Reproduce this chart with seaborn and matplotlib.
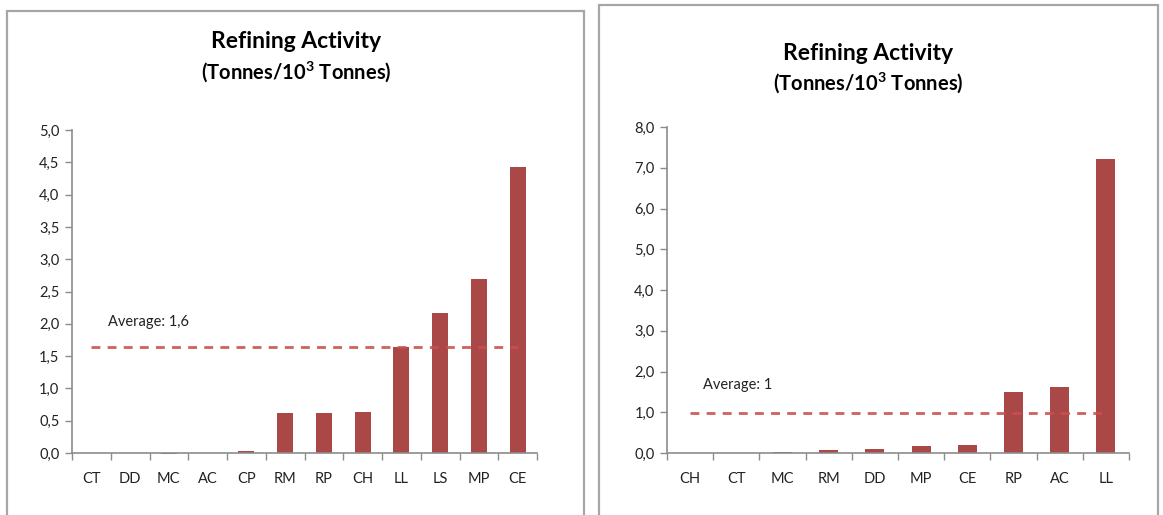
import matplotlib
matplotlib.use("Agg")
import matplotlib.pyplot as plt
import seaborn as sns
import pandas as pd
from matplotlib.patches import Rectangle
from matplotlib.ticker import FixedLocator

# ---- data ----
left_categories = ["CT", "DD", "MC", "AC", "CP", "RM", "RP", "CH", "LL", "LS", "MP", "CE"]
left_values = [0.0, 0.0, -0.02, 0.005, 0.03, 0.62, 0.62, 0.64, 1.64, 2.16, 2.70, 4.42]
left_average = 1.64
left_average_label = "Average: 1,6"
left_yticks = [0.0, 0.5, 1.0, 1.5, 2.0, 2.5, 3.0, 3.5, 4.0, 4.5, 5.0]

right_categories = ["CH", "CT", "MC", "RM", "DD", "MP", "CE", "RP", "AC", "LL"]
right_values = [0.0, 0.01, 0.03, 0.07, 0.10, 0.16, 0.19, 1.49, 1.61, 7.22]
right_average = 0.97
right_average_label = "Average: 1"
right_yticks = [0.0, 1.0, 2.0, 3.0, 4.0, 5.0, 6.0, 7.0, 8.0]

title_line1 = "Refining Activity"
title_line2 = "(Tonnes/10$^{3}$ Tonnes)"

# ---- style ----
sns.set_theme(style="white")
plt.rcParams["font.family"] = ["Lato", "DejaVu Sans"]
plt.rcParams["mathtext.fontset"] = "custom"
plt.rcParams["mathtext.rm"] = "Lato:bold"
plt.rcParams["mathtext.default"] = "rm"

BAR = "#A94846"
AVG = "#C9504D"
AXIS = "#8C8C8C"
FRAME = "#A6A6A6"

W, H = 1163, 515
fig = plt.figure(figsize=(W / 100, H / 100), dpi=100)


def fx(px):
    return px / W


def fy(py):
    return 1 - py / H


# panel frames
for (x0, y0, x1) in [(7, 11, 584), (599, 5, 1158)]:
    fig.patches.append(Rectangle((fx(x0), fy(H + 5)), fx(x1) - fx(x0), fy(y0) - fy(H + 5),
                                 transform=fig.transFigure, fill=False,
                                 edgecolor=FRAME, linewidth=1.6, zorder=0))


def draw(ax, cats, vals, avg, avg_label, yticks, ymax, label_xy, fmt):
    df = pd.DataFrame({"cat": cats, "val": vals})
    sns.barplot(data=df, x="cat", y="val", order=cats, color=BAR, saturation=1,
                width=0.41, ax=ax, edgecolor="none")
    for p in ax.patches:
        p.set_clip_on(False)
    n = len(cats)
    ax.set_xlim(-0.5, n - 0.5)
    ax.set_ylim(0, ymax)
    ax.set_xlabel("")
    ax.set_ylabel("")
    ax.set_yticks(yticks)
    ax.set_yticklabels([fmt(v) for v in yticks], fontsize=10.5, color="#222222")
    ax.tick_params(axis="y", length=5, width=1, color=AXIS, pad=4, direction="out", left=True)
    ax.tick_params(axis="x", which="major", length=0, pad=14, labelsize=10.5, labelcolor="#222222")
    ax.xaxis.set_minor_locator(FixedLocator([i - 0.5 for i in range(n + 1)]))
    ax.tick_params(axis="x", which="minor", length=5, width=1, color=AXIS, direction="out", bottom=True)
    for s in ["top", "right"]:
        ax.spines[s].set_visible(False)
    for s in ["left", "bottom"]:
        ax.spines[s].set_color(AXIS)
        ax.spines[s].set_linewidth(1.2)
    ax.spines["bottom"].set_position(("data", 0))
    ax.grid(False)
    ax.plot([0, n - 1], [avg, avg], linestyle=(0, (3.2, 2.6)), color=AVG,
            linewidth=2.0, alpha=0.9, zorder=5)
    ax.text(label_xy[0], label_xy[1], avg_label, fontsize=10.5, color="#222222",
            ha="left", va="center")


def comma1(v):
    return f"{v:.1f}".replace(".", ",")


axL = fig.add_axes([fx(72), fy(453), fx(537) - fx(72), fy(130) - fy(453)])
draw(axL, left_categories, left_values, left_average, left_average_label,
     left_yticks, 5.0, (0.43, 2.03), comma1)

axR = fig.add_axes([fx(667), fy(453), fx(1129) - fx(667), fy(127) - fy(453)])
draw(axR, right_categories, right_values, right_average, right_average_label,
     right_yticks, 8.0, (0.28, 1.67), comma1)

# titles
for cx, y1, y2 in [(296, 41, 72), (868, 53, 83)]:
    fig.text(fx(cx), fy(y1), title_line1, ha="center", va="center",
             fontsize=16.5, fontweight="bold", color="black")
    fig.text(fx(cx), fy(y2), title_line2, ha="center", va="center",
             fontsize=14.5, fontweight="bold", color="black")

fig.savefig("out.png", dpi=100, facecolor="white")
